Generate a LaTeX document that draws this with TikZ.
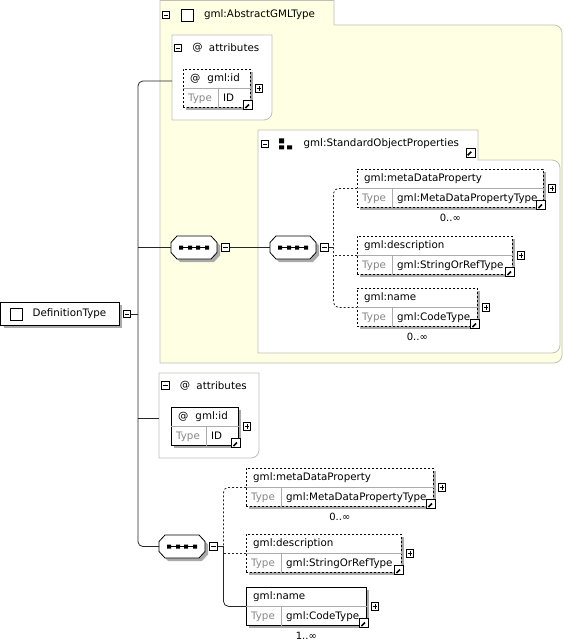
\documentclass[tikz,border=0pt]{standalone}
\usepackage{fontspec}
\setmainfont{DejaVu Sans}
\usetikzlibrary{positioning}

\definecolor{grpfill}{RGB}{255,255,228}
\definecolor{grpline}{RGB}{192,192,182}
\definecolor{typegray}{RGB}{135,135,135}
\definecolor{shadowgray}{RGB}{170,170,170}

\begin{document}
\begin{tikzpicture}[x=1bp, y=-1bp,
		every node/.style={font=\fontsize{10.3bp}{12bp}\selectfont, inner sep=0pt},
		conn/.style={draw=black!85, line width=0.8bp},
		dashconn/.style={conn, dash pattern=on 2bp off 2bp},
		grp/.style={draw=grpline, line width=0.8bp},
		cell/.style={solid, draw=gray!65, line width=0.8bp},
		boxshadow/.style={preaction={fill=shadowgray, draw=none, transform canvas={shift={(3bp,-3bp)}}}},
		elem/.style={draw, fill=white, line width=0.8bp, anchor=north west,
			minimum height=38bp, boxshadow,
			append after command={
				(\tikzlastnode.west) edge[cell] (\tikzlastnode.east)
				([xshift=35bp]\tikzlastnode.south west) edge[cell] ([xshift=35bp]\tikzlastnode.west)
			}},
		optelem/.style={elem, dash pattern=on 2bp off 2bp},
		elemtitle/.style={anchor=west, xshift=7bp, yshift=-9.5bp, text height=7.5bp, text depth=2bp},
		typekey/.style={anchor=west, xshift=5bp, yshift=9.5bp, text height=7.5bp, text depth=2bp, text=typegray},
		typeval/.style={anchor=west, xshift=40bp, yshift=9.5bp, text height=7.5bp, text depth=2bp},
		occurs/.style={anchor=north, yshift=-6bp, font=\fontsize{10bp}{12bp}\selectfont},
		minusbox/.style={draw, fill=white, line width=0.6bp, minimum size=7.5bp,
			path picture={\draw[line width=0.7bp, shift={(path picture bounding box.center)}] (-2.2,0) -- (2.2,0);}},
		plusbox/.style={draw, fill=white, line width=0.6bp, minimum size=7.5bp, anchor=west, xshift=4bp,
			path picture={\draw[line width=0.7bp, shift={(path picture bounding box.center)}] (-2.2,0) -- (2.2,0) (0,-2.2) -- (0,2.2);}},
		refarrow/.style={draw, fill=white, line width=0.8bp, minimum size=9bp,
			path picture={
				\draw[line width=1.6bp, shift={(path picture bounding box.center)}] (-2.8,2.8) -- (0.8,-0.8);
				\fill[shift={(path picture bounding box.center)}] (3.4,-3.4) -- (3.4,1.2) -- (-1.2,-3.4) -- cycle;
			}},
		cornerref/.style={refarrow, anchor=center, xshift=-2.5bp, yshift=2.5bp},
		sqicon/.style={draw, fill=white, line width=0.8bp, minimum size=12bp},
		seqbox/.style={anchor=west, minimum width=46bp, minimum height=23bp},
		typebox/.style={draw, fill=white, line width=0.8bp, anchor=north west,
			minimum width=118.5bp, minimum height=23bp, boxshadow}
	]
		\useasboundingbox (0,0) rectangle (564,644);
		
		% abstract gml type group
		\draw[grp, fill=grpfill] (160,363) -- (160,0.5) -- (334,0.5) -- (334,25) -- (554,25)
			arc[start angle=-90, end angle=0, radius=8] -- (562,355)
			arc[start angle=0, end angle=90, radius=8] -- cycle;
		\node[minusbox] (abstractmin) at (166,15) {};
		\node[sqicon, right=11bp of abstractmin] (abstractsq) {};
		\node[right=10bp of abstractsq] (abstracttitle) {gml:AbstractGMLType};
		
		% inherited attributes
		\draw[grp, fill=white] (172,35) -- (272,35) -- (272,112)
			arc[start angle=0, end angle=90, radius=8] -- (172,120) -- cycle;
		\node[minusbox] (attrAmin) at (178,48) {};
		\node[right=10bp of attrAmin] (attrAat) {@};
		\node[right=6bp of attrAat] (attrAtitle) {attributes};
		\coordinate (attrA) at (172,81);
		
		\node[optelem, minimum width=67bp,
			label={[elemtitle]north west:{@\hspace{7bp}gml:id}},
			label={[typekey]south west:{Type}},
			label={[typeval]south west:{ID}},
			label={[plusbox]east:{}},
			label={[cornerref]south east:{}}] (idA) at (183,69) {};
		
		% standard object properties
		\draw[grp, fill=white] (258,353) -- (258,130) -- (478,130) -- (478,160) -- (552,160)
			arc[start angle=-90, end angle=0, radius=8] -- (560,345)
			arc[start angle=0, end angle=90, radius=8] -- cycle;
		\node[minusbox] (sopmin) at (265,144) {};
		\node[minimum width=13bp, minimum height=11bp, right=10bp of sopmin] (sopicon) {};
		\fill[shift={(sopicon.north west)}] (0,0) rectangle (5,5) (0,7) rectangle (5,11) (8,7) rectangle (13,11);
		\node[right=11bp of sopicon] (soptitle) {gml:StandardObjectProperties};
		\node[refarrow] (soparrow) at (470.5,152.5) {};
		
		\node[seqbox] (seq1) at (171,247.5) {};
		\node[seqbox] (seq2) at (270,247.5) {};
		
		\node[optelem, minimum width=186bp,
			label={[elemtitle]north west:{gml:metaDataProperty}},
			label={[typekey]south west:{Type}},
			label={[typeval]south west:{gml:MetaDataPropertyType}},
			label={[plusbox]east:{}},
			label={[cornerref]south east:{}},
			label={[occurs]south:{0..∞}}] (meta1) at (357,169) {};
		\node[optelem, minimum width=155bp,
			label={[elemtitle]north west:{gml:description}},
			label={[typekey]south west:{Type}},
			label={[typeval]south west:{gml:StringOrRefType}},
			label={[plusbox]east:{}},
			label={[cornerref]south east:{}}] (desc1) at (357,236) {};
		\node[optelem, minimum width=120bp,
			label={[elemtitle]north west:{gml:name}},
			label={[typekey]south west:{Type}},
			label={[typeval]south west:{gml:CodeType}},
			label={[plusbox]east:{}},
			label={[cornerref]south east:{}},
			label={[occurs]south:{0..∞}}] (name1) at (357,288) {};
		
		% own attributes
		\draw[grp, fill=white] (159,373) -- (259,373) -- (259,450)
			arc[start angle=0, end angle=90, radius=8] -- (159,458) -- cycle;
		\node[minusbox] (attrBmin) at (165.5,385.5) {};
		\node[right=10bp of attrBmin] (attrBat) {@};
		\node[right=6bp of attrBat] (attrBtitle) {attributes};
		\coordinate (attrB) at (159,418);
		
		\node[elem, minimum width=67bp,
			label={[elemtitle]north west:{@\hspace{7bp}gml:id}},
			label={[typekey]south west:{Type}},
			label={[typeval]south west:{ID}},
			label={[plusbox]east:{}},
			label={[cornerref]south east:{}}] (idB) at (171,407) {};
		
		% own sequence
		\node[seqbox] (seq3) at (159,546.5) {};
		
		\node[optelem, minimum width=187bp,
			label={[elemtitle]north west:{gml:metaDataProperty}},
			label={[typekey]south west:{Type}},
			label={[typeval]south west:{gml:MetaDataPropertyType}},
			label={[plusbox]east:{}},
			label={[cornerref]south east:{}},
			label={[occurs]south:{0..∞}}] (meta2) at (246,468) {};
		\node[optelem, minimum width=155bp,
			label={[elemtitle]north west:{gml:description}},
			label={[typekey]south west:{Type}},
			label={[typeval]south west:{gml:StringOrRefType}},
			label={[plusbox]east:{}},
			label={[cornerref]south east:{}}] (desc2) at (246,534) {};
		\node[elem, minimum width=120bp,
			label={[elemtitle]north west:{gml:name}},
			label={[typekey]south west:{Type}},
			label={[typeval]south west:{gml:CodeType}},
			label={[plusbox]east:{}},
			label={[cornerref]south east:{}},
			label={[occurs]south:{1..∞}}] (name2) at (246,587) {};
		
		% sequence compositors
		\foreach \s in {seq1, seq2, seq3} {
			\begin{scope}[shift={(\s.west)}]
				\fill[shadowgray] (3,-2) -- (9,-8.5) -- (43,-8.5) -- (49,-2) -- (49,8) -- (43,14.5) -- (9,14.5) -- (3,8) -- cycle;
				\draw[fill=white, line width=0.8bp] (0,-5) -- (6,-11.5) -- (40,-11.5) -- (46,-5) -- (46,5) -- (40,11.5) -- (6,11.5) -- (0,5) -- cycle;
				\draw[line width=0.9bp] (8,0) -- (38,0);
				\fill (8,-2) rectangle (12,2) (17,-2) rectangle (21,2) (25,-2) rectangle (29,2) (34,-2) rectangle (38,2);
			\end{scope}
		}
		\node[minusbox, right=4bp of seq1] (seq1min) {};
		\node[minusbox, right=4bp of seq2] (seq2min) {};
		\node[minusbox, right=4bp of seq3] (seq3min) {};
		
		% root type
		\node[typebox,
			label={[sqicon, anchor=west, xshift=9bp]west:{}},
			label={[anchor=west, xshift=32bp]west:{DefinitionType}}] (deftype) at (0.5,302) {};
		\node[minusbox, right=3bp of deftype] (defmin) {};
		\coordinate[right=7bp of defmin] (trunk);
		
		% connectors
		\draw[conn] (defmin.east) -- (trunk);
		\draw[conn, rounded corners=5bp] (attrA) -| (trunk |- seq3.west) -- (seq3.west);
		\draw[conn] (seq1.west) -- (seq1.west -| trunk);
		\draw[conn] (attrB) -- (attrB -| trunk);
		\draw[conn] (seq1min.east) -- (seq2.west);
		
		\coordinate[right=5bp of seq2min] (sopfork);
		\draw[conn] (seq2min.east) -- (sopfork);
		\draw[dashconn, rounded corners=5bp] (meta1.west) -| (sopfork) |- (name1.west);
		\draw[dashconn] (desc1.west) -- (desc1.west -| sopfork);
		
		\coordinate[right=6bp of seq3min] (seqfork);
		\draw[conn] (seq3min.east) -- (seqfork);
		\draw[dashconn, rounded corners=5bp] (meta2.west) -| (seqfork);
		\draw[dashconn] (desc2.west) -- (desc2.west -| seqfork);
		\draw[conn, rounded corners=5bp] (seqfork) |- (name2.west);
	\end{tikzpicture}
\end{document}
